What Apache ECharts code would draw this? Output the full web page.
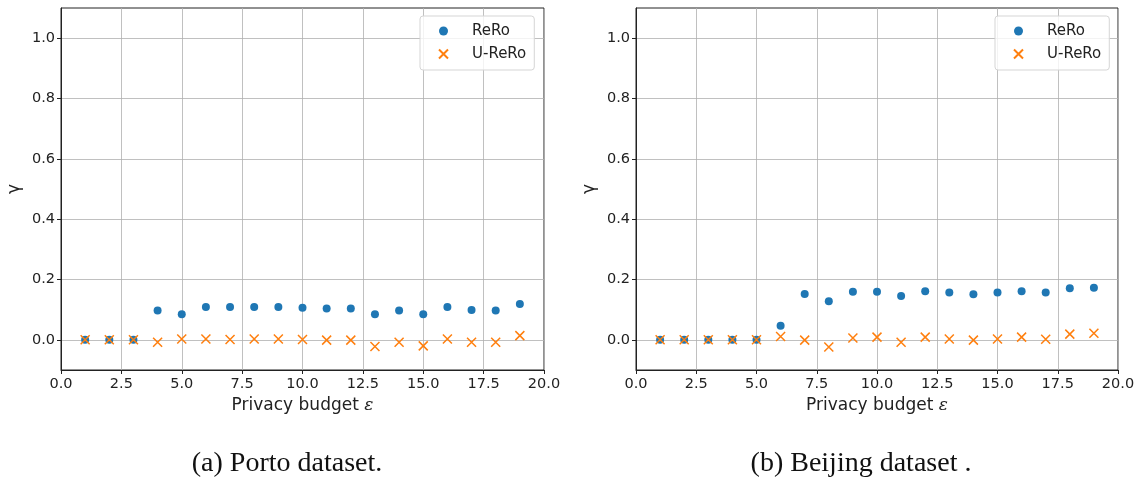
<!DOCTYPE html>
<html>
<head>
<meta charset="utf-8">
<script src="https://cdn.jsdelivr.net/npm/echarts@6/dist/echarts.min.js"></script>
<style>
html,body{margin:0;padding:0;background:#fff;}
#c{width:1139px;height:480px;}
</style>
</head>
<body>
<div id="c"></div>
<script>
const epsilons = [1,2,3,4,5,6,7,8,9,10,11,12,13,14,15,16,17,18,19];
const portoReRo = [0,0,0,0.097,0.085,0.109,0.109,0.109,0.109,0.106,0.104,0.104,0.085,0.097,0.085,0.109,0.099,0.097,0.119];
const portoUReRo = [0,0,0,-0.008,0.003,0.003,0.001,0.003,0.003,0.001,-0.001,-0.001,-0.022,-0.008,-0.020,0.003,-0.008,-0.008,0.014];
const beijingReRo = [0,0,0,0,0,0.047,0.152,0.128,0.159,0.159,0.145,0.161,0.157,0.151,0.157,0.161,0.157,0.171,0.173];
const beijingUReRo = [0,0,0,0,0,0.011,-0.001,-0.024,0.006,0.009,-0.008,0.009,0.003,-0.001,0.003,0.009,0.002,0.019,0.022];
const yTicks = [0,0.2,0.4,0.6,0.8,1.0];
const captions = ['(a) Porto dataset.', '(b) Beijing dataset .'];

const pairs = (xs, ys) => xs.map((x,i)=>[x, ys[i]]);
const blue = '#1f77b4', orange = '#ff7f0e';
const xPath = 'path://M0,0L10,10M10,0L0,10';
const tickFont = {fontFamily:'DejaVu Sans', fontSize:14.5, color:'#222'};

function xAx(gi){
  return {
    gridIndex: gi, type:'value', min:0, max:20, interval:2.5,
    name:'{a|Privacy budget }{b|ε}', nameLocation:'middle', nameGap:27,
    nameTextStyle:{fontFamily:'DejaVu Sans', fontSize:17, color:'#222',
      rich:{a:{fontFamily:'DejaVu Sans', fontSize:17, color:'#222'}, b:{fontFamily:'DejaVu Serif', fontStyle:'italic', fontSize:17, color:'#222'}}},
    axisLine:{show:true, onZero:false, lineStyle:{color:'#222', width:1}},
    axisTick:{show:true, length:4, lineStyle:{color:'#222'}},
    axisLabel:Object.assign({margin:7, formatter:v=>v.toFixed(1)}, tickFont),
    splitLine:{show:true, lineStyle:{color:'#b0b0b0', width:0.8}}
  };
}
function yAx(gi){
  return {
    gridIndex: gi, type:'value', min:-0.1, max:1.1,
    name:'γ', nameLocation:'middle', nameGap:38, nameRotate:90,
    nameTextStyle:{fontFamily:'DejaVu Sans', fontSize:17, color:'#222'},
    axisLine:{show:true, onZero:false, lineStyle:{color:'#222', width:1}},
    axisTick:{show:true, length:4, lineStyle:{color:'#222'}, customValues:yTicks},
    axisLabel:Object.assign({margin:6, formatter:v=>v.toFixed(1), customValues:yTicks}, tickFont),
    splitLine:{show:true, lineStyle:{color:'#b0b0b0', width:0.8}}
  };
}
function legend(left){
  return {
    left:left, top:16, orient:'vertical', itemGap:5, itemWidth:9, itemHeight:9,
    padding:[6,8,7,18], borderColor:'#d5d5d5', borderWidth:1, borderRadius:3,
    backgroundColor:'rgba(255,255,255,0.8)',
    textStyle:{fontFamily:'DejaVu Sans', fontSize:15, lineHeight:18, color:'#222', padding:[0,0,0,19]},
    data:[{name:'ReRo'},{name:'U-ReRo'}]
  };
}
function sers(gi, a, b){
  return [
    {type:'scatter', name:'ReRo', xAxisIndex:gi, yAxisIndex:gi, data:pairs(epsilons,a),
     symbol:'circle', symbolSize:8, itemStyle:{color:blue, opacity:1}, emphasis:{disabled:true}},
    {type:'scatter', name:'U-ReRo', xAxisIndex:gi, yAxisIndex:gi, data:pairs(epsilons,b),
     symbol:xPath, symbolSize:9, itemStyle:{color:orange, borderColor:orange, borderWidth:1.5, opacity:1}, emphasis:{disabled:true}}
  ];
}

const chart = echarts.init(document.getElementById('c'), null, {renderer:'canvas'});
chart.setOption({
  animation:false,
  backgroundColor:'#fff',
  grid:[
    {left:61, top:8, width:483, height:362, show:true, borderColor:'#222', borderWidth:1, backgroundColor:'transparent'},
    {left:636, top:8, width:482, height:362, show:true, borderColor:'#222', borderWidth:1, backgroundColor:'transparent'}
  ],
  xAxis:[xAx(0), xAx(1)],
  yAxis:[yAx(0), yAx(1)],
  legend:[legend(420), legend(995)],
  title:[
    {text:captions[0], left:282, top:445, textAlign:'center', textStyle:{fontFamily:'Liberation Serif', fontSize:28, fontWeight:'normal', color:'#111'}},
    {text:captions[1], left:856, top:445, textAlign:'center', textStyle:{fontFamily:'Liberation Serif', fontSize:28, fontWeight:'normal', color:'#111'}}
  ],
  series:[].concat(sers(0, portoReRo, portoUReRo), sers(1, beijingReRo, beijingUReRo))
});
</script>
</body>
</html>
